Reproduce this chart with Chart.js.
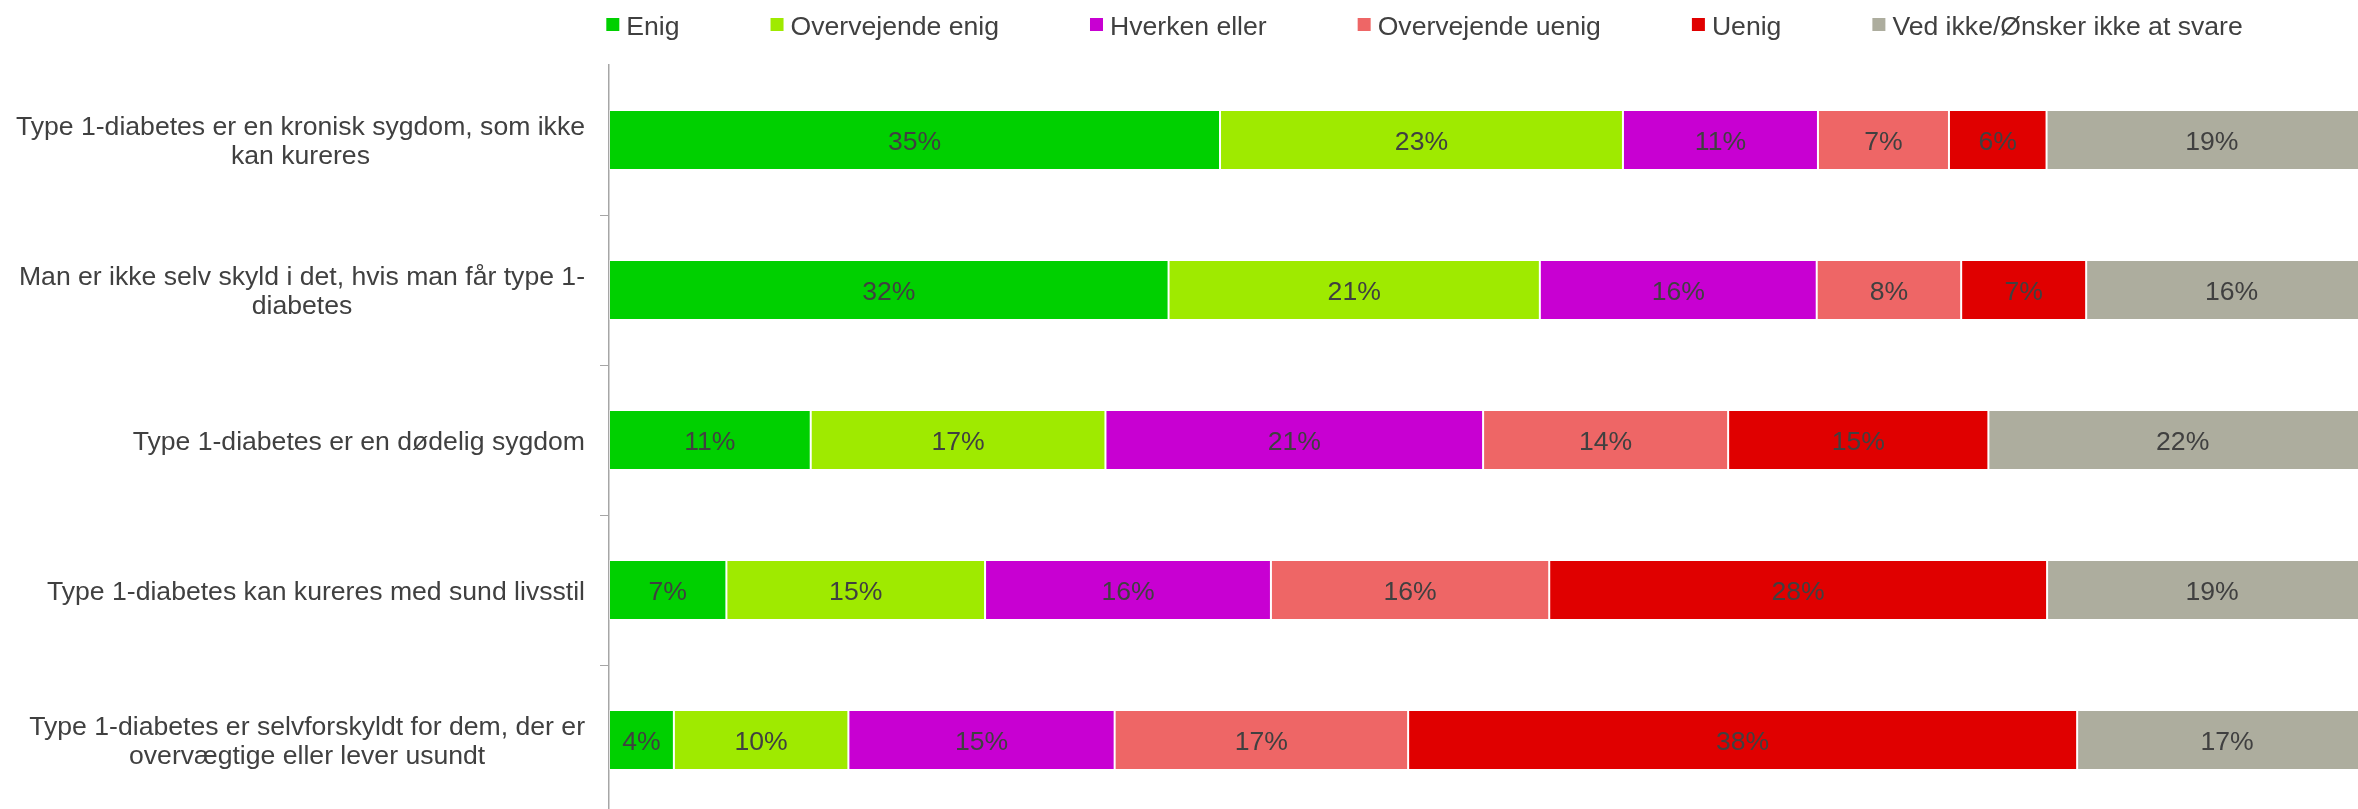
<!DOCTYPE html>
<html>
<head>
<meta charset="utf-8">
<script src="https://cdn.jsdelivr.net/npm/chart.js"></script>
<style>
  html, body { margin: 0; padding: 0; background: #ffffff; overflow: hidden; }
  #view { width: 2358px; height: 809px; overflow: hidden; position: relative; }
  #wrap { width: 2380px; height: 820px; position: absolute; left: 0; top: 0; }
</style>
</head>
<body>
<div id="view"><div id="wrap"><canvas id="c"></canvas></div></div>
<script>
// ---- Data ----
const categories = [
  ["Type 1-diabetes er en kronisk sygdom, som ikke", "kan kureres"],
  ["Man er ikke selv skyld i det, hvis man får type 1-", "diabetes"],
  ["Type 1-diabetes er en dødelig sygdom"],
  ["Type 1-diabetes kan kureres med sund livsstil"],
  ["Type 1-diabetes er selvforskyldt for dem, der er", "overvægtige eller lever usundt"]
];
const seriesNames = ["Enig", "Overvejende enig", "Hverken eller", "Overvejende uenig", "Uenig", "Ved ikke/Ønsker ikke at svare"];
const seriesColors = ["#00D000", "#9FEA00", "#C800D2", "#EE6666", "#E00000", "#ADAD9E"];

const enig             = [34.56, 31.65, 11.41,  6.64,  3.67];
const overvejendeEnig  = [22.79, 21.00, 16.67, 14.63,  9.87];
const hverkenEller     = [11.03, 15.66, 21.36, 16.17, 15.06];
const overvejendeUenig = [ 7.41,  8.17, 13.86, 15.74, 16.60];
const uenig            = [ 5.52,  7.07, 14.72, 28.16, 37.84];
const vedIkke          = [18.69, 16.45, 21.98, 18.66, 16.96];

const seriesValues = [enig, overvejendeEnig, hverkenEller, overvejendeUenig, uenig, vedIkke];

const FONT = '"Liberation Sans", Arial, sans-serif';
const TEXT = '#404040';
const FS = 26.6;

const yLabelPlugin = {
  id: 'yLabels',
  afterDraw(chart) {
    const ctx = chart.ctx, ys = chart.scales.y;
    ctx.save();
    ctx.font = FS + 'px ' + FONT;
    ctx.fillStyle = TEXT;
    ctx.textAlign = 'center';
    ctx.textBaseline = 'alphabetic';
    chart.data.labels.forEach((lines, i) => {
      const arr = Array.isArray(lines) ? lines : [lines];
      const w = Math.max(...arr.map(l => ctx.measureText(l).width));
      const cx = chart.chartArea.left - 24 - w / 2;
      const cy = ys.getPixelForValue(i);
      const lh = 29;
      arr.forEach((l, k) => {
        const ly = cy + (k - (arr.length - 1) / 2) * lh;
        ctx.fillText(l, cx, ly + FS * 0.36);
      });
    });
    ctx.restore();
  }
};

const valueLabelPlugin = {
  id: 'valueLabels',
  afterDatasetsDraw(chart) {
    const ctx = chart.ctx;
    ctx.save();
    ctx.font = FS + 'px ' + FONT;
    ctx.fillStyle = TEXT;
    ctx.textAlign = 'center';
    ctx.textBaseline = 'alphabetic';
    chart.data.datasets.forEach((ds, d) => {
      const meta = chart.getDatasetMeta(d);
      meta.data.forEach((bar, i) => {
        const p = bar.getProps(['x', 'y', 'base'], true);
        const cx = (p.x + p.base) / 2;
        ctx.fillText(Math.round(ds.data[i]) + '%', cx, p.y + FS * 0.36);
      });
    });
    ctx.restore();
  }
};

const legendPlugin = {
  id: 'customLegend',
  afterDraw(chart) {
    const ctx = chart.ctx;
    ctx.save();
    ctx.font = FS + 'px ' + FONT;
    ctx.textBaseline = 'alphabetic';
    ctx.textAlign = 'left';
    const box = 13, gap = 7, spacing = 91;
    const items = chart.data.datasets.map(ds => ({ text: ds.label, color: ds.backgroundColor, w: ctx.measureText(ds.label).width }));
    let total = 0;
    items.forEach((it, k) => { total += box + gap + it.w + (k < items.length - 1 ? spacing : 0); });
    let x = 1424.5 - total / 2;
    items.forEach(it => {
      ctx.fillStyle = it.color;
      ctx.fillRect(x, 18, box, box);
      ctx.fillStyle = TEXT;
      ctx.fillText(it.text, x + box + gap, 34.5);
      x += box + gap + it.w + spacing;
    });
    ctx.restore();
  }
};

new Chart(document.getElementById('c'), {
  type: 'bar',
  data: {
    labels: categories,
    datasets: seriesValues.map((vals, k) => ({
      label: seriesNames[k],
      data: vals,
      backgroundColor: seriesColors[k],
      borderColor: 'rgba(255,255,255,0.4)',
      borderWidth: 1,
      borderSkipped: false,
      barPercentage: 0.5,
      categoryPercentage: 0.8
    }))
  },
  options: {
    indexAxis: 'y',
    responsive: true,
    maintainAspectRatio: false,
    animation: false,
    layout: { padding: { top: 65, right: 3, bottom: 5, left: 0 } },
    plugins: { legend: { display: false }, tooltip: { enabled: false } },
    scales: {
      x: { stacked: true, min: 0, max: 100, display: false },
      y: {
        stacked: true,
        ticks: { display: false },
        grid: {
          drawOnChartArea: false, drawTicks: true, tickLength: 9, lineWidth: 1,
          color: (c) => (c.index === 0 ? 'rgba(0,0,0,0)' : '#A6A6A6')
        },
        border: { display: true, color: '#A6A6A6', width: 1.5 },
        afterFit(scale) { scale.width = 609; }
      }
    }
  },
  plugins: [valueLabelPlugin, yLabelPlugin, legendPlugin]
});
</script>
</body>
</html>
